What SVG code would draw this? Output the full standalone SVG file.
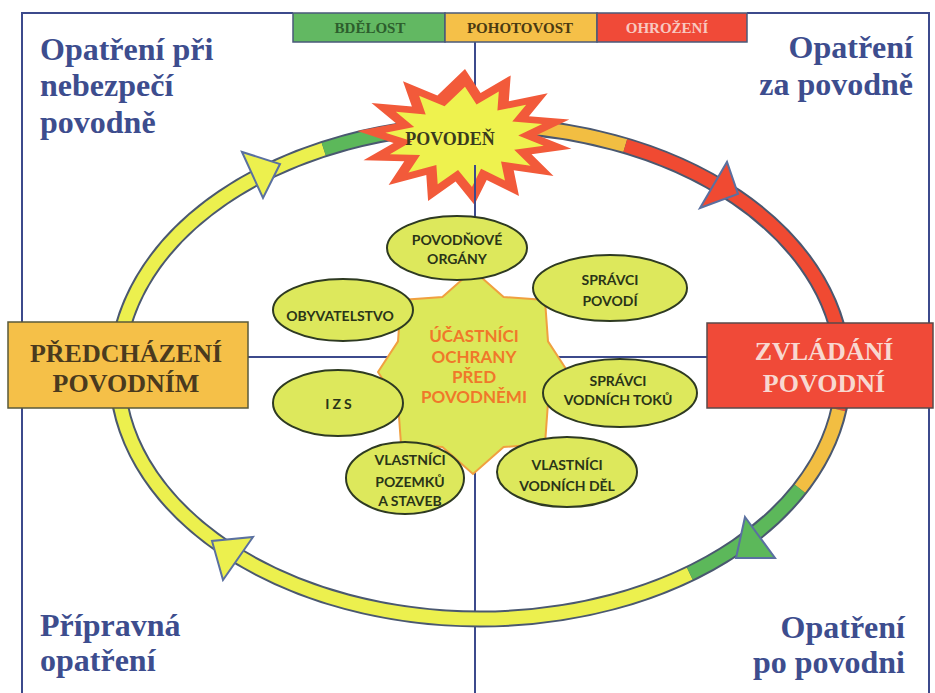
<svg xmlns="http://www.w3.org/2000/svg" xmlns:xlink="http://www.w3.org/1999/xlink" width="935" height="693" viewBox="0 0 935 693">
<style>
.frame{stroke:#3c4a8c;stroke-width:2;fill:none}
.corner{font-family:"Liberation Serif",serif;font-weight:bold;font-size:32px;fill:#3d4d8e}
.leg{font-family:"Liberation Serif",serif;font-weight:bold;font-size:15px;text-anchor:middle}
.legbox{stroke:#4a5a7a;stroke-width:1.5}
.band{fill:none;stroke-width:13}
.arrow{stroke:#5a70a0;stroke-width:2;stroke-linejoin:miter}
.node ellipse{fill:#dde85c;stroke:#2e3a22;stroke-width:2}
.nt{font-family:Lato,"Open Sans",sans-serif;font-weight:bold;font-size:14px;fill:#2a3418;text-anchor:middle}
.ct{font-family:Lato,"Open Sans",sans-serif;font-weight:bold;font-size:17px;fill:#f0782a;text-anchor:middle}
.bt{font-family:"Liberation Serif",serif;font-weight:bold;font-size:26px;text-anchor:middle}
</style>
<defs>
<polygon id="burst" points="0,-68 15.6,-43.9 45.7,-61.6 43.8,-35.7 82.7,-43.7 63.9,-20.8 104.3,-17.6 71.9,-2 106.4,11.8 66.5,17.2 88.5,39 48.7,33.2 54,58.9 21.7,42.9 9.4,67.7 -9.4,44.6 -36.9,63.9 -38.7,37.9 -76.4,48.1 -60.7,24.2 -101.5,23.3 -71.4,5.9 -107.6,-5.9 -68.7,-13.5 -93.5,-34 -53.1,-30.4 -62,-55.7 -27.6,-41.6"/>
</defs>
<rect width="935" height="693" fill="#ffffff"/>

<g id="frame">
<polyline class="frame" points="293,13 22,13 22,693"/>
<polyline class="frame" points="747,13 929,13 929,693"/>
<line class="frame" x1="475" y1="42" x2="475" y2="693"/>
<line class="frame" x1="22" y1="357" x2="929" y2="357"/>
</g>

<g id="legend">
<rect class="legbox" x="293" y="13" width="152" height="29" fill="#62b862"/>
<rect class="legbox" x="445" y="13" width="152" height="29" fill="#f5c048"/>
<rect class="legbox" x="597" y="13" width="150" height="29" fill="#f04a38"/>
<text class="leg" x="370" y="33" fill="#2d5e2d">BDĚLOST</text>
<text class="leg" x="520" y="33" fill="#4a3a12">POHOTOVOST</text>
<text class="leg" x="667" y="33" fill="#f8c8c0">OHROŽENÍ</text>
</g>

<g id="corners">
<text class="corner" x="40" y="60">Opatření při</text>
<text class="corner" x="40" y="96">nebezpečí</text>
<text class="corner" x="40" y="133">povodně</text>
<text class="corner" x="913" y="58" text-anchor="end">Opatření</text>
<text class="corner" x="913" y="95" text-anchor="end">za povodně</text>
<text class="corner" x="40" y="636">Přípravná</text>
<text class="corner" x="40" y="671">opatření</text>
<text class="corner" x="905" y="638" text-anchor="end">Opatření</text>
<text class="corner" x="905" y="673" text-anchor="end">po povodni</text>
</g>

<g id="connectors">
<ellipse cx="480" cy="372" rx="363" ry="247" fill="none" stroke="#4a5870" stroke-width="17"/>
<path class="band" stroke="#ecf04e" d="M689.8,573.6 A363,247 0 1 1 323.7,149.1"/>
<path class="band" stroke="#5cb85a" d="M323.7,149.1 A363,247 0 0 1 480,125"/>
<path class="band" stroke="#f2be42" d="M480,125 A363,247 0 0 1 625.3,145.6"/>
<path class="band" stroke="#f04a32" d="M625.3,145.6 A363,247 0 0 1 838.7,409.8"/>
<path class="band" stroke="#f2be42" d="M838.7,409.8 A363,247 0 0 1 799.9,488.7"/>
<path class="band" stroke="#5cb85a" d="M799.9,488.7 A363,247 0 0 1 689.8,573.6"/>
<polygon class="arrow" fill="#ecf04e" points="242,152 263,198 280,164"/>
<polygon class="arrow" fill="#f04a32" points="700,208 727,162 738,194"/>
<polygon class="arrow" fill="#5cb85a" points="745,517 775,558 736,558"/>
<polygon class="arrow" fill="#ecf04e" points="253,537 223,580 212,541"/>
</g>

<g id="povoden">
<use xlink:href="#burst" href="#burst" transform="translate(465 137)" fill="#f25a3a"/>
<use xlink:href="#burst" href="#burst" transform="translate(465 137) scale(0.74)" fill="#eef24e"/>
<line class="frame" x1="475" y1="165" x2="475" y2="217"/>
<text x="450" y="145" font-family="Liberation Serif,serif" font-weight="bold" font-size="18" fill="#3a3a1e" text-anchor="middle">POVODEŇ</text>
</g>

<g id="ucastnici">
<polygon points="473,270 503.6,297 545,300 548,341.4 568,372 548,402.6 545,444 503.6,447 473,474 442.4,447 401,444 398,402.6 378,372 398,341.4 401,300 442.4,297" fill="#dce85a" stroke="#f0a040" stroke-width="2"/>
<text class="ct" x="474" y="342">ÚČASTNÍCI</text>
<text class="ct" x="474" y="363">OCHRANY</text>
<text class="ct" x="474" y="383">PŘED</text>
<text class="ct" x="474" y="403">POVODNĚMI</text>
</g>

<g id="n-povodnove-organy" class="node">
<ellipse cx="457" cy="248" rx="70" ry="32"/>
<text class="nt" x="457" y="245">POVODŇOVÉ</text>
<text class="nt" x="457" y="264">ORGÁNY</text>
</g>
<g id="n-spravci-povodi" class="node">
<ellipse cx="610" cy="288" rx="77" ry="33"/>
<text class="nt" x="610" y="285">SPRÁVCI</text>
<text class="nt" x="610" y="306">POVODÍ</text>
</g>
<g id="n-obyvatelstvo" class="node">
<ellipse cx="343" cy="310" rx="70" ry="31"/>
<text class="nt" x="340" y="321">OBYVATELSTVO</text>
</g>
<g id="n-spravci-toku" class="node">
<ellipse cx="620" cy="393" rx="77" ry="34"/>
<text class="nt" x="618" y="386">SPRÁVCI</text>
<text class="nt" x="618" y="405">VODNÍCH TOKŮ</text>
</g>
<g id="n-izs" class="node">
<ellipse cx="338" cy="403" rx="65" ry="33"/>
<text class="nt" x="340" y="409" letter-spacing="3">IZS</text>
</g>
<g id="n-vlastnici-pozemku" class="node">
<ellipse cx="405" cy="478" rx="59" ry="36"/>
<text class="nt" x="410" y="465">VLASTNÍCI</text>
<text class="nt" x="410" y="487">POZEMKŮ</text>
<text class="nt" x="410" y="506">A STAVEB</text>
</g>
<g id="n-vlastnici-del" class="node">
<ellipse cx="567" cy="472" rx="70" ry="35"/>
<text class="nt" x="567" y="470">VLASTNÍCI</text>
<text class="nt" x="567" y="491">VODNÍCH DĚL</text>
</g>

<g id="predchazeni">
<rect x="8" y="322" width="240" height="86" fill="#f5c048" stroke="#5a5a3a" stroke-width="1.5"/>
<text class="bt" x="126" y="362" fill="#4a3a1e">PŘEDCHÁZENÍ</text>
<text class="bt" x="126" y="392" fill="#4a3a1e">POVODNÍM</text>
</g>
<g id="zvladani">
<rect x="707" y="323" width="226" height="85" fill="#f04a38" stroke="#5a4a4a" stroke-width="1.5"/>
<text class="bt" x="824" y="360" fill="#f8d8d0">ZVLÁDÁNÍ</text>
<text class="bt" x="824" y="392" fill="#f8d8d0">POVODNÍ</text>
</g>
</svg>
